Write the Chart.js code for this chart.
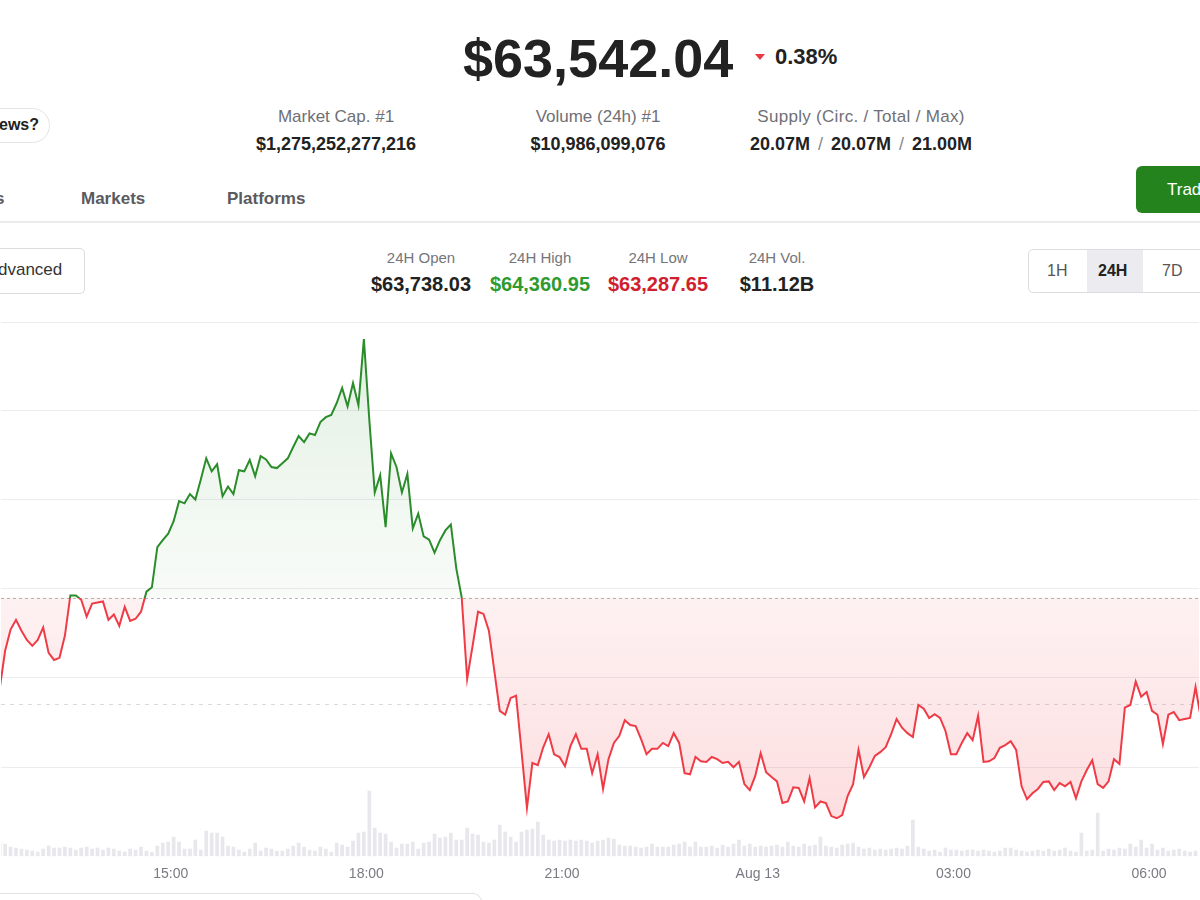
<!DOCTYPE html>
<html>
<head>
<meta charset="utf-8">
<title>BTC 24H</title>
<script src="https://cdn.jsdelivr.net/npm/chart.js@4.4.1/dist/chart.umd.min.js"></script>
<style>
  body {
    margin: 0;
    width: 1200px;
    height: 900px;
    overflow: hidden;
    position: relative;
    background: #fff;
    color: #222;
    font-family: "Liberation Sans", Arial, sans-serif;
  }
  .abs { position: absolute; white-space: nowrap; line-height: 1; }
  .stat { width: 260px; text-align: center; }
  .stat .lbl { color: #6f6f76; font-size: 17px; }
  .stat .val { font-weight: 700; font-size: 18px; margin-top: 10px; }
  .mini { width: 160px; text-align: center; }
  .mini .lbl { color: #75757c; font-size: 15px; }
  .mini .val { font-weight: 700; font-size: 20px; margin-top: 9px; }
  .slash { color: #8a8a90; font-weight: 400; padding: 0 3px; }
</style>
</head>
<body>

<!-- header: price -->
<div class="abs" style="left:463px;top:31px;font-size:54px;font-weight:700;color:#222;">$63,542.04</div>
<div class="abs" style="left:755px;top:54px;width:0;height:0;border-left:5px solid transparent;border-right:5px solid transparent;border-top:6px solid #ea3943;"></div>
<div class="abs" style="left:775px;top:46px;font-size:22px;font-weight:700;color:#222;">0.38%</div>

<!-- news pill -->
<div class="abs" style="left:-70px;top:108px;width:118px;height:33px;border:1px solid #e4e4e8;border-radius:18px;"></div>
<div class="abs" style="left:-1px;top:117px;font-size:16px;font-weight:700;color:#222;">ews?</div>

<!-- top stats -->
<div class="abs stat" style="left:206px;top:108px;"><div class="lbl">Market Cap. #1</div><div class="val">$1,275,252,277,216</div></div>
<div class="abs stat" style="left:468px;top:108px;"><div class="lbl">Volume (24h) #1</div><div class="val">$10,986,099,076</div></div>
<div class="abs stat" style="left:731px;top:108px;"><div class="lbl" style="letter-spacing:0.3px;">Supply (Circ. / Total / Max)</div><div class="val">20.07M <span class="slash">/</span> 20.07M <span class="slash">/</span> 21.00M</div></div>

<!-- tabs -->
<div class="abs" style="left:-5px;top:190px;font-size:17px;font-weight:700;color:#5a5a60;">s</div>
<div class="abs" style="left:81px;top:190px;font-size:17px;font-weight:700;color:#5a5a60;">Markets</div>
<div class="abs" style="left:227px;top:190px;font-size:17px;font-weight:700;color:#5a5a60;">Platforms</div>
<div class="abs" style="left:1136px;top:166px;width:110px;height:47px;background:#25831e;border-radius:6px;"></div>
<div class="abs" style="left:1167px;top:181px;font-size:17px;color:#fff;">Trade</div>
<div class="abs" style="left:0;top:221px;width:1200px;height:2px;background:#ebebee;"></div>

<!-- advanced button -->
<div class="abs" style="left:-40px;top:248px;width:123px;height:44px;border:1px solid #dcdce0;border-radius:5px;"></div>
<div class="abs" style="left:-2px;top:261px;font-size:17px;color:#333;">dvanced</div>

<!-- 24h stats -->
<div class="abs mini" style="left:341px;top:250px;"><div class="lbl">24H Open</div><div class="val" style="color:#222;">$63,738.03</div></div>
<div class="abs mini" style="left:460px;top:250px;"><div class="lbl">24H High</div><div class="val" style="color:#2f9a2f;">$64,360.95</div></div>
<div class="abs mini" style="left:578px;top:250px;"><div class="lbl">24H Low</div><div class="val" style="color:#d0202e;">$63,287.65</div></div>
<div class="abs mini" style="left:697px;top:250px;"><div class="lbl">24H Vol.</div><div class="val" style="color:#222;">$11.12B</div></div>

<!-- range toggle -->
<div class="abs" style="left:1028px;top:249px;width:200px;height:42px;border:1px solid #dcdce0;border-radius:5px;overflow:hidden;">
  <div class="abs" style="left:58px;top:0;width:56px;height:42px;background:#ececf0;"></div>
</div>
<div class="abs" style="left:1047px;top:263px;font-size:16px;color:#555;">1H</div>
<div class="abs" style="left:1098px;top:263px;font-size:16px;font-weight:700;color:#222;">24H</div>
<div class="abs" style="left:1162px;top:263px;font-size:16px;color:#555;">7D</div>

<canvas id="priceChart" width="1200" height="581" style="position:absolute;left:0;top:312px;"></canvas>

<!-- box under the chart -->
<div class="abs" style="left:-20px;top:893px;width:500px;height:40px;border:1px solid #e2e2e6;border-radius:9px;"></div>

<script>
// ===== Data (BTC, Aug 12 12:20 -> Aug 13 06:50, 5 minute steps) =====
const openPrice = 63738.03;      // 24H open, dashed baseline
const lastPrice = 63542.04;      // current price, light dashed line
const firstMinute = 22.7;        // minutes after Aug 12 12:00 of the first point
const stepMinutes = 5;

const prices = [
  63570, 63640, 63679, 63697, 63677, 63660, 63649, 63660, 63683, 63636,
  63623, 63627, 63668, 63742, 63742, 63734, 63703, 63727, 63729, 63731,
  63697, 63707, 63686, 63721, 63695, 63699, 63712, 63749, 63757, 63831,
  63844, 63856, 63879, 63916, 63912, 63929, 63919, 63956, 63995, 63971,
  63984, 63925, 63943, 63929, 63973, 63971, 63992, 63962, 63999, 63993,
  63979, 63977, 63986, 63995, 64016, 64036, 64025, 64041, 64038, 64062,
  64071, 64075, 64097, 64125, 64091, 64134, 64093, 64215, 64066, 63932,
  63964, 63868, 64004, 63979, 63932, 63966, 63866, 63893, 63851, 63845,
  63821, 63844, 63862, 63873, 63792, 63738, 63588, 63649, 63712, 63708,
  63677, 63603, 63529, 63522, 63553, 63557, 63455, 63350, 63433, 63429,
  63462, 63486, 63449, 63444, 63427, 63464, 63486, 63459, 63459, 63414,
  63449, 63385, 63440, 63470, 63483, 63512, 63503, 63501, 63477, 63449,
  63459, 63459, 63470, 63464, 63488, 63470, 63414, 63412, 63444, 63436,
  63435, 63444, 63440, 63433, 63435, 63425, 63435, 63394, 63383, 63409,
  63451, 63416, 63407, 63399, 63359, 63362, 63388, 63387, 63362, 63405,
  63351, 63362, 63359, 63335, 63331, 63337, 63372, 63394, 63457, 63407,
  63425, 63446, 63453, 63462, 63486, 63514, 63498, 63488, 63481, 63540,
  63533, 63516, 63523, 63516, 63492, 63449, 63449, 63470, 63488, 63475,
  63520, 63435, 63436, 63442, 63461, 63466, 63473, 63457, 63390, 63366,
  63377, 63385, 63398, 63399, 63383, 63396, 63390, 63398, 63368, 63399,
  63420, 63438, 63394, 63387, 63399, 63440, 63431, 63535, 63540, 63583,
  63555, 63564, 63529, 63522, 63468, 63522, 63527, 63512, 63514, 63516,
  63573, 63514
];

// volume per 5 minutes, $M
const volumes = [
  70, 60, 45, 40, 35, 30, 25, 20, 35, 50,
  40, 40, 45, 40, 30, 40, 45, 35, 40, 30,
  40, 35, 25, 20, 35, 30, 45, 25, 20, 50,
  65, 70, 95, 70, 35, 35, 80, 30, 125, 115,
  115, 95, 50, 45, 30, 20, 35, 65, 25, 40,
  35, 25, 25, 35, 50, 65, 45, 30, 25, 45,
  35, 20, 65, 55, 45, 75, 115, 120, 325, 140,
  115, 110, 70, 40, 60, 60, 70, 35, 65, 70,
  110, 90, 95, 115, 80, 80, 140, 110, 105, 70,
  65, 80, 155, 120, 95, 70, 120, 130, 135, 170,
  105, 80, 75, 80, 75, 80, 75, 80, 75, 65,
  75, 80, 90, 85, 55, 50, 50, 45, 40, 45,
  60, 45, 45, 45, 55, 60, 70, 45, 70, 45,
  45, 50, 40, 55, 45, 60, 80, 50, 60, 45,
  50, 45, 50, 55, 45, 70, 50, 45, 60, 50,
  55, 95, 50, 45, 40, 55, 60, 65, 45, 35,
  40, 30, 35, 30, 35, 40, 35, 50, 180, 45,
  35, 25, 30, 20, 40, 30, 30, 25, 30, 30,
  25, 30, 25, 20, 25, 40, 40, 30, 25, 20,
  25, 30, 25, 35, 25, 30, 40, 25, 20, 115,
  25, 30, 215, 25, 35, 30, 40, 35, 60, 45,
  80, 40, 60, 30, 40, 25, 30, 35, 25, 20,
  25, 30
];

const tickMinutes = [180, 360, 540, 720, 900, 1080];
const tickLabels = ["15:00", "18:00", "21:00", "Aug 13", "03:00", "06:00"];
const viewMinutes = [23.9, 1125.9];
const priceRange = [63261.0, 64246.5];
const priceGrid = [63425.5, 63590.1, 63754.7, 63919.2, 64082.9, 64246.5];
const volumeMax = 2665;

const green = "#2a8c2a";
const red = "#ef3b46";

// ===== Reference lines (open + current price) =====
function dashedLine(ctx, area, y, color, dash) {
  ctx.save();
  ctx.strokeStyle = color;
  ctx.lineWidth = 1;
  ctx.setLineDash(dash);
  ctx.beginPath();
  ctx.moveTo(area.left, Math.round(y) + 0.5);
  ctx.lineTo(area.right, Math.round(y) + 0.5);
  ctx.stroke();
  ctx.restore();
}

const refLines = {
  id: "refLines",
  beforeDatasetsDraw(chart) {
    const y = chart.scales.y;
    dashedLine(chart.ctx, chart.chartArea, y.getPixelForValue(openPrice), "#b4b4ba", [3, 3]);
    dashedLine(chart.ctx, chart.chartArea, y.getPixelForValue(lastPrice), "#dadade", [4, 5]);
  }
};

// ===== Chart =====
const priceData = prices.map((p, i) => ({ x: firstMinute + i * stepMinutes, y: p }));
const volumeData = volumes.map((v, i) => ({ x: firstMinute + i * stepMinutes, y: v }));

const ctx = document.getElementById("priceChart").getContext("2d");
const chart = new Chart(ctx, {
  type: "bar",
  data: {
    datasets: [
      {
        type: "line",
        data: priceData,
        yAxisID: "y",
        borderColor: green,
        borderWidth: 2,
        pointRadius: 0,
        tension: 0,
        order: 0,
        fill: { target: { value: openPrice }, above: "rgba(42,140,42,0.08)", below: "rgba(239,59,70,0.1)" }
      },
      {
        type: "bar",
        data: volumeData,
        yAxisID: "yVol",
        backgroundColor: "#e7e7ec",
        barThickness: 3,
        order: 1
      }
    ]
  },
  options: {
    responsive: false,
    animation: false,
    layout: { padding: { top: 10, left: 0, right: 0, bottom: 0 } },
    plugins: { legend: { display: false }, tooltip: { enabled: false } },
    scales: {
      x: {
        type: "linear",
        min: viewMinutes[0],
        max: viewMinutes[1],
        offset: false,
        grid: { display: false, drawTicks: false, offset: false },
        border: { display: false },
        afterBuildTicks: s => { s.ticks = tickMinutes.map(v => ({ value: v })); },
        ticks: {
          autoSkip: false,
          maxRotation: 0,
          padding: 10,
          color: "#7a7a82",
          font: { family: "Liberation Sans", size: 14 },
          callback: v => tickLabels[tickMinutes.indexOf(v)]
        }
      },
      y: {
        position: "right",
        min: priceRange[0],
        max: priceRange[1],
        afterBuildTicks: s => { s.ticks = priceGrid.map(v => ({ value: v })); },
        ticks: { display: false },
        grid: { color: "#ececf0", drawTicks: false },
        border: { display: false }
      },
      yVol: {
        display: false,
        min: 0,
        max: volumeMax
      }
    }
  },
  plugins: [refLines]
});

// gradients need the laid-out chart area, so set them after the first pass
function paintGradients() {
  const area = chart.chartArea;
  const ys = chart.scales.y;
  const c = chart.ctx;
  const base = ys.getPixelForValue(openPrice);
  const hi = ys.getPixelForValue(Math.max(...prices));
  const lo = ys.getPixelForValue(Math.min(...prices));

  const split = (base - area.top) / (area.bottom - area.top);
  const stroke = c.createLinearGradient(0, area.top, 0, area.bottom);
  stroke.addColorStop(0, green);
  stroke.addColorStop(split, green);
  stroke.addColorStop(split, red);
  stroke.addColorStop(1, red);

  const up = c.createLinearGradient(0, hi, 0, base);
  up.addColorStop(0, "rgba(42,140,42,0.13)");
  up.addColorStop(1, "rgba(42,140,42,0.03)");

  const down = c.createLinearGradient(0, base, 0, lo);
  down.addColorStop(0, "rgba(239,59,70,0.07)");
  down.addColorStop(1, "rgba(239,59,70,0.17)");

  const ds = chart.data.datasets[0];
  ds.borderColor = stroke;
  ds.fill = { target: { value: openPrice }, above: up, below: down };
  chart.update("none");
}
paintGradients();
</script>
</body>
</html>
